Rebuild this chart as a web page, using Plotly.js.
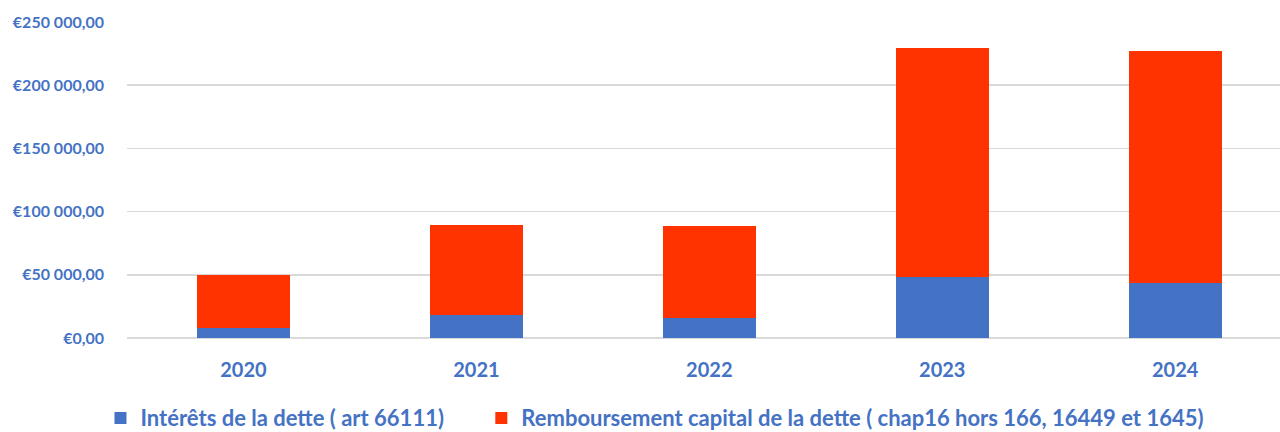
<!DOCTYPE html>
<html>
<head>
<meta charset="utf-8">
<script src="https://cdn.plot.ly/plotly-3.0.1.min.js"></script>
<style>html,body{margin:0;padding:0;background:#fff;}#chart{width:1280px;height:432px;}</style>
</head>
<body>
<div id="chart"></div>
<script>
const years = ["2020", "2021", "2022", "2023", "2024"];
const interets = [7900, 17900, 16100, 48600, 43500];
const capital = [41900, 71300, 72200, 180800, 183300];
const seriesNames = ["Intérêts de la dette ( art 66111)", "Remboursement capital de la dette ( chap16 hors 166, 16449 et 1645)"];
const yTickVals = [0, 50000, 100000, 150000, 200000, 250000];
const yTickText = ["€0,00", "€50 000,00", "€100 000,00", "€150 000,00", "€200 000,00", "€250 000,00"];

const blue = "#4472C4", red = "#FF3300", txt = "#4472C4";
const fontFam = "Lato, 'Open Sans', sans-serif";

const data = [
  {type: "bar", x: years, y: interets, name: seriesNames[0], legend: "legend", marker: {color: blue, line: {width: 0}}},
  {type: "bar", x: years, y: capital, name: seriesNames[1], legend: "legend2", marker: {color: red, line: {width: 0}}}
];

const legFont = {size: 22, color: txt, family: fontFam, weight: 700};

const layout = {
  width: 1280, height: 432,
  barmode: "stack", bargap: 0.6,
  margin: {l: 126.5, r: 0, t: 22, b: 94, autoexpand: false},
  paper_bgcolor: "#fff", plot_bgcolor: "#fff",
  font: {family: fontFam, color: txt, weight: 700},
  xaxis: {
    type: "category", range: [-0.5, 4.45], showgrid: false, zeroline: false, showline: false,
    ticks: "", tickfont: {size: 20, color: txt, family: fontFam, weight: 700}, ticklabelstandoff: 18
  },
  yaxis: {
    range: [0, 250000], tickvals: yTickVals, ticktext: yTickText,
    showgrid: true, gridcolor: "#d9d9d9", gridwidth: 1.5, zeroline: true, zerolinecolor: "#d9d9d9", zerolinewidth: 1.5,
    ticks: "", tickfont: {size: 16, color: txt, family: fontFam, weight: 700}, ticklabelstandoff: 22
  },
  showlegend: true,
  legend: {orientation: "h", x: -0.023, xanchor: "left", y: -0.187, yanchor: "top", font: legFont},
  legend2: {orientation: "h", x: 0.3073, xanchor: "left", y: -0.187, yanchor: "top", font: legFont}
};

Plotly.newPlot("chart", data, layout, {displayModeBar: false, staticPlot: true});
</script>
</body>
</html>
